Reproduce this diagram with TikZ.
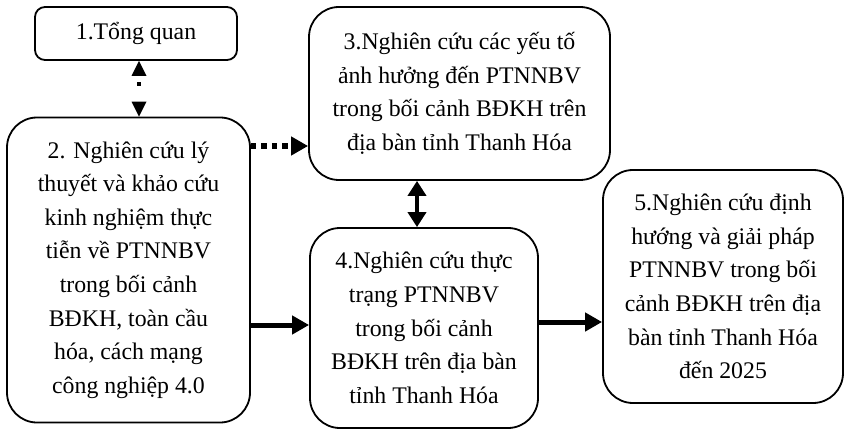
\documentclass[tikz,border=0pt]{standalone}
\usepackage{fontspec}
\setmainfont{Liberation Serif}
\usetikzlibrary{arrows.meta}
\begin{document}
\begin{tikzpicture}[x=1pt,y=-1pt,
  box/.style={draw, line width=1.8pt, align=center, inner sep=0pt,
    font=\fontsize{23.8}{33.6}\selectfont},
  bigarrow/.style={line width=5pt, -{Triangle[length=17pt,width=18pt]}},
  dblarrow/.style={line width=4.5pt, {Triangle[length=15pt,width=18pt]}-{Triangle[length=15pt,width=18pt]}},
  dotarrow/.style={line width=5.5pt, dash pattern=on 5.5pt off 5pt, -{Triangle[length=17pt,width=18pt]}},
  thindot/.style={line width=4pt, dash pattern=on 0pt off 6.5pt on 4pt off 20pt,
    {Triangle[length=15pt,width=15pt,line width=0pt,fill=black]}-{Triangle[length=15pt,width=15pt,line width=0pt,fill=black]}}]
\useasboundingbox (0,0) rectangle (845,430);

\node[box, rounded corners=10pt, minimum width=202pt, minimum height=53pt] (b1) at (136,33.5) {1.Tổng quan};

\node[box, rounded corners=30pt, minimum width=243pt, minimum height=305pt] (b2) at (128.5,270)
 {2. Nghiên cứu lý\\thuyết và khảo cứu\\kinh nghiệm thực\\tiễn về PTNNBV\\trong bối cảnh\\BĐKH, toàn cầu\\hóa, cách mạng\\công nghiệp 4.0};

\node[box, rounded corners=30pt, minimum width=301pt, minimum height=173pt] (b3) at (459.5,93.5)
 {3.Nghiên cứu các yếu tố\\ảnh hưởng đến PTNNBV\\trong bối cảnh BĐKH trên\\địa bàn tỉnh Thanh Hóa};

\node[box, rounded corners=30pt, minimum width=228pt, minimum height=200pt] (b4) at (424,328)
 {4.Nghiên cứu thực\\trạng PTNNBV\\trong bối cảnh\\BĐKH trên địa bàn\\tỉnh Thanh Hóa};

\node[box, rounded corners=30pt, minimum width=240pt, minimum height=233pt] (b5) at (723,286.5)
 {5.Nghiên cứu định\\hướng và giải pháp\\PTNNBV trong bối\\cảnh BĐKH trên địa\\bàn tỉnh Thanh Hóa\\đến 2025};

\draw[thindot] (b1.south -| 139,0) -- (b2.north -| 139,0);
\draw[dotarrow] (b2.east |- 0,146) -- (b3.west |- 0,146);
\draw[dblarrow] (b3.south -| 417,0) -- (b4.north -| 417,0);
\draw[bigarrow] (b2.east |- 0,325) -- (b4.west |- 0,325);
\draw[bigarrow] (b4.east |- 0,322) -- (b5.west |- 0,322);
\end{tikzpicture}
\end{document}
